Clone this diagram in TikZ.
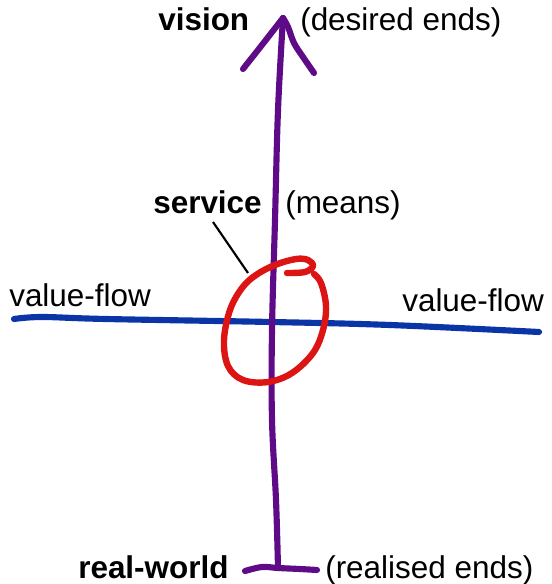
\documentclass[tikz,border=0pt]{standalone}
\usepackage{fontspec}
\setmainfont{Liberation Sans}
\definecolor{axispurple}{HTML}{5F0A87}
\definecolor{flowblue}{HTML}{0B35A6}
\definecolor{servred}{HTML}{DC1414}
\tikzset{
  lbl/.style={inner sep=0pt, anchor=base west, font=\fontsize{23.6}{28}\selectfont},
  blbl/.style={lbl, font=\fontsize{23.6}{28}\selectfont\bfseries},
  axisline/.style={draw=axispurple, line width=4.6pt, line cap=round, line join=round},
  flowline/.style={draw=flowblue, line width=4.6pt, line cap=round},
  servline/.style={draw=servred, line width=4.8pt, line cap=round, line join=round},
  pointer/.style={draw=black, line width=1.6pt}
}
\begin{document}
\begin{tikzpicture}[x=0.75pt,y=-0.75pt]
\useasboundingbox (0,0) rectangle (551,584);
% coordinates
\coordinate (vis) at (283,18);
\coordinate (rw) at (278,568);
\coordinate (barL) at (245,571);
\coordinate (barR) at (317,570);
\coordinate (headL) at (243,69);
\coordinate (headR) at (314,73);
\coordinate (flowL) at (14,319);
\coordinate (flowR) at (539,332);
\coordinate (ptrA) at (213,222);
\coordinate (ptrB) at (248,273);
% blue value-flow line
\draw[flowline] plot[smooth, tension=0.6] coordinates {(flowL) (42,317) (106,319) (271,322) (390,325) (flowR)};
% purple axis
\draw[axisline] plot[smooth, tension=0.6] coordinates {(rw) (276,500) (272,420) (272,330) (275,220) (278,110) (vis)};
\draw[axisline] (headL) .. controls (262,45) .. (vis);
\draw[axisline] plot[smooth, tension=0.6] coordinates {(vis) (288,27) (294,43) (303,57) (headR)};
\draw[axisline] plot[smooth, tension=0.6] coordinates {(barL) (262,567) (rw) (300,569) (barR)};
% red service loop
\draw[servline] plot[smooth, tension=0.6] coordinates {(287,273) (305,272) (313,266) (308,260) (296,259) (275,265) (256,275) (242,288) (230,310) (224,340) (228,366) (243,380) (268,382) (292,373) (313,353) (323,330) (326,306) (321,283) (314,274)};
% pointer
\draw[pointer] (ptrA) -- (ptrB);
% labels
\node[blbl] (vision) at (158,31) {vision};
\node[lbl] (desired) at (300,31) {(desired ends)};
\node[blbl] (service) at (153,214) {service};
\node[lbl] (means) at (285,214) {(means)};
\node[lbl] (vfL) at (9,306) {value-flow};
\node[lbl] (vfR) at (402,311) {value-flow};
\node[blbl] (real) at (78,578) {real-world};
\node[lbl] (realised) at (325,578) {(realised ends)};
\end{tikzpicture}
\end{document}
